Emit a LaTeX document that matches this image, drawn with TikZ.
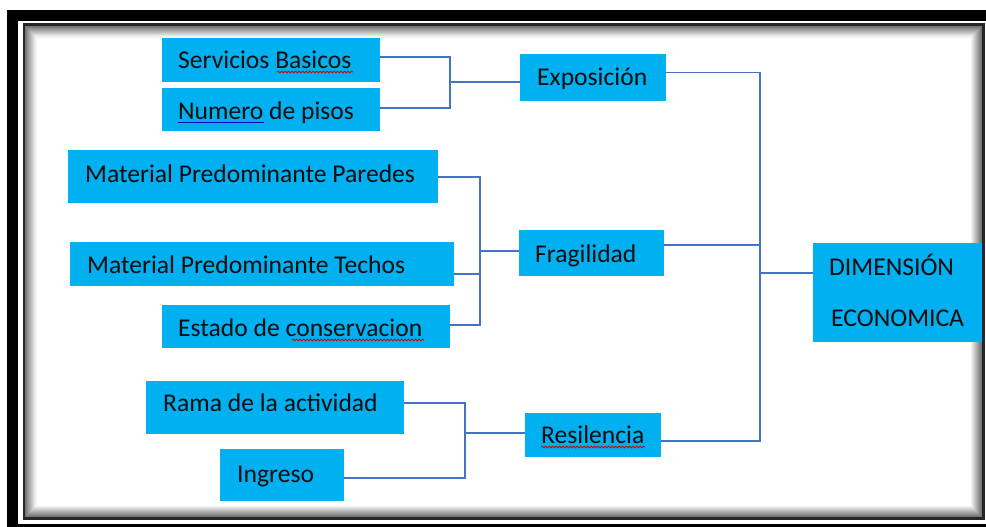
\documentclass[tikz,border=0pt]{standalone}
\usepackage{fontspec}
\setmainfont{Carlito}
\usetikzlibrary{decorations.pathmorphing}
\definecolor{boxblue}{HTML}{00B0F0}
\definecolor{linkblue}{HTML}{4472C4}
\definecolor{txt}{HTML}{0D0D0D}
\begin{document}
\begin{tikzpicture}[x=1pt,y=-1pt,
  boxnode/.style={fill=boxblue, draw=none, inner sep=0pt, anchor=north west},
  lbl/.style={anchor=base west, inner sep=0pt, text=txt, font=\fontsize{25.6}{30}\selectfont},
  conn/.style={draw=linkblue, line width=1.6pt},
  wavy/.style={draw=red!85!black, line width=0.8pt, decorate, decoration={snake, amplitude=0.9pt, segment length=3.5pt}},
  gram/.style={draw=blue!70!black, line width=0.9pt}]
\useasboundingbox (0,0) rectangle (986,527);
\begin{scope}
\clip (0,0) rectangle (986,527);
\fill[white] (0,0) rectangle (986,527);
% outer thick frame
\draw[black, line width=11pt] (12.5,15.5) rectangle (1000,529.5);
% inner thin frame
\draw[black!85, line width=3pt] (24,25) rectangle (983.5,518.5);
% inner shadow
\foreach \i in {1,...,11} {
  \pgfmathtruncatemacro\g{60-5*\i}
  \draw[black!\g, line width=1.1pt] (25+\i,26+\i) rectangle (982.5-\i,517.5-\i);
}
\end{scope}

% boxes
\node[boxnode, minimum width=218pt, minimum height=44pt] (sb) at (162,38) {};
\node[boxnode, minimum width=218pt, minimum height=43pt] (np) at (162,88) {};
\node[boxnode, minimum width=146pt, minimum height=47pt] (ex) at (520,54) {};
\node[boxnode, minimum width=370pt, minimum height=53pt] (mp) at (68,150) {};
\node[boxnode, minimum width=384pt, minimum height=44pt] (mt) at (70,242) {};
\node[boxnode, minimum width=288pt, minimum height=43pt] (ec) at (162,305) {};
\node[boxnode, minimum width=145pt, minimum height=46pt] (fr) at (519,230) {};
\node[boxnode, minimum width=258pt, minimum height=53pt] (ra) at (146,381) {};
\node[boxnode, minimum width=124pt, minimum height=52pt] (ig) at (220,449) {};
\node[boxnode, minimum width=136pt, minimum height=44pt] (re) at (525,413) {};
\node[boxnode, minimum width=169pt, minimum height=99pt] (de) at (813,243) {};

% labels
\node[lbl] (tsb) at (178,69) {Servicios Basicos};
\node[lbl] (tnp) at (178,119) {Numero de pisos};
\node[lbl] (tex) at (537,86) {Exposición};
\node[lbl] (tmp) at (85,182) {Material Predominante Paredes};
\node[lbl] (tmt) at (87,273) {Material Predominante Techos};
\node[lbl] (tec) at (178,336) {Estado de conservacion};
\node[lbl] (tfr) at (535,262) {Fragilidad};
\node[lbl] (tra) at (163,411) {Rama de la actividad};
\node[lbl] (tig) at (237,482) {Ingreso};
\node[lbl] (tre) at (541,443) {Resilencia};
\node[lbl] (tde1) at (829,275) {DIMENSIÓN};
\node[lbl] (tde2) at (831,326) {ECONOMICA};

% spelling / grammar marks
\draw[wavy] (277,72) -- (353,72);
\draw[gram] (178,122.5) -- (264,122.5);
\draw[wavy] (292,340) -- (424,340);
\draw[wavy] (541,447) -- (645,447);

% connectors: Exposicion group
\coordinate (jx) at (450,82);
\draw[conn] ([yshift=3pt]sb.east) -| (jx);
\draw[conn] ([yshift=1.5pt]np.east) -| (jx);
\draw[conn] (jx) -- (jx -| ex.west);

% Fragilidad group
\coordinate (jf) at (480,251);
\draw[conn] ([yshift=-0.5pt]mp.east) -| (jf);
\draw[conn] ([yshift=-10pt]mt.east) -| (jf);
\draw[conn] ([yshift=1.5pt]ec.east) -| (jf);
\draw[conn] (jf) -- (jf -| fr.west);

% Resilencia group
\coordinate (jr) at (465,433);
\draw[conn] ([yshift=5pt]ra.east) -| (jr);
\draw[conn] ([yshift=-2.5pt]ig.east) -| (jr);
\draw[conn] (jr) -- (jr -| re.west);

% trunk to DIMENSION ECONOMICA
\coordinate (tr) at (760,273);
\draw[conn] ([yshift=5pt]ex.east) -| (tr);
\draw[conn] ([yshift=8pt]fr.east) -| (tr);
\draw[conn] ([yshift=-5.5pt]re.east) -| (tr);
\draw[conn] (tr) -- (tr -| de.west);
\end{tikzpicture}
\end{document}
